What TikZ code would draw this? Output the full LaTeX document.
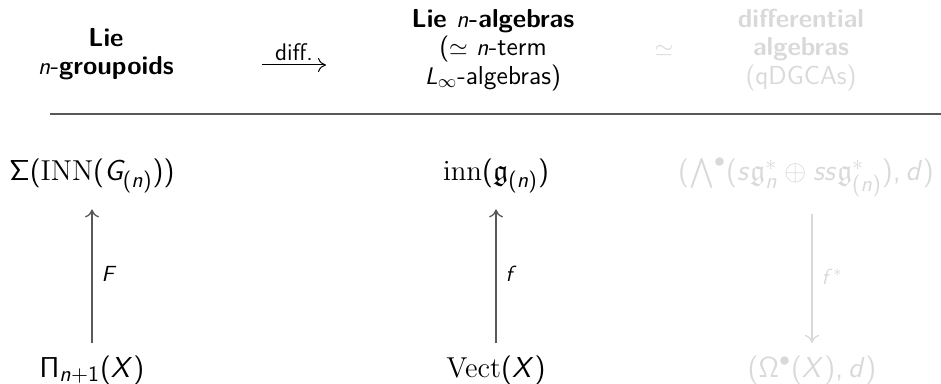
\documentclass[tikz,border=0pt]{standalone}
\usepackage{amsmath,amssymb}
\usetikzlibrary{arrows.meta}
\renewcommand\familydefault{\sfdefault}
\DeclareSymbolFont{sfit}{OT1}{cmss}{m}{sl}
\DeclareSymbolFont{sfup}{OT1}{cmss}{m}{n}
\DeclareMathSymbol{G}{\mathalpha}{sfit}{`G}
\DeclareMathSymbol{n}{\mathalpha}{sfit}{`n}
\DeclareMathSymbol{X}{\mathalpha}{sfit}{`X}
\DeclareMathSymbol{F}{\mathalpha}{sfit}{`F}
\DeclareMathSymbol{f}{\mathalpha}{sfit}{`f}
\DeclareMathSymbol{s}{\mathalpha}{sfit}{`s}
\DeclareMathSymbol{d}{\mathalpha}{sfit}{`d}
\DeclareMathSymbol{L}{\mathalpha}{sfit}{`L}
\DeclareMathSymbol{1}{\mathalpha}{sfup}{`1}
\DeclareMathSymbol{+}{\mathbin}{sfup}{`+}
\DeclareMathSymbol{(}{\mathopen}{sfup}{`(}
\DeclareMathSymbol{)}{\mathclose}{sfup}{`)}
\DeclareMathSymbol{,}{\mathpunct}{sfup}{`,}
\DeclareMathSymbol{\Sigma}{\mathalpha}{sfup}{"06}
\DeclareMathSymbol{\Pi}{\mathalpha}{sfup}{"05}
\DeclareMathSymbol{\Omega}{\mathalpha}{sfup}{"0A}
\definecolor{lightg}{gray}{0.85}
\definecolor{darkg}{gray}{0.35}
\tikzset{
  hdr/.style={align=center, font=\fontsize{13}{14.3}\selectfont, inner sep=0pt},
  obj/.style={font=\fontsize{15}{18}\selectfont, inner sep=0pt, anchor=base},
  tip/.style={-{To[length=4pt,width=7pt]}},
  mor/.style={tip, darkg, line width=0.65pt},
  lbl/.style={font=\fontsize{11}{13}\selectfont, inner sep=0pt, anchor=west, text=black},
  faint/.style={text=lightg},
}
\begin{document}
\begin{tikzpicture}[x=0.5pt,y=-0.5pt]
\useasboundingbox (0,0) rectangle (941,384);
% headers
\node[hdr] (h1) at (106,54) {\textbf{Lie}\\$n$-\textbf{groupoids}};
\node[hdr] (h2) at (493,50) {\textbf{Lie $n$-algebras}\\($\simeq$ $n$-term\\$L_\infty$-algebras)};
\node[hdr, faint] (h3) at (801,50) {\textbf{differential}\\\textbf{algebras}\\(qDGCAs)};
\node[hdr, faint] (sim) at (664,51) {$\simeq$};
\coordinate (dA) at (262,65);
\coordinate (dB) at (326,65);
\draw[tip, line width=0.5pt] (dA) -- node[above=2pt, font=\fontsize{12}{13}\selectfont, inner sep=0pt] {diff.} (dB);
% rule
\coordinate (rA) at (50,114);
\coordinate (rB) at (941,114);
\draw[darkg, line width=0.75pt] (rA) -- (rB);
% objects
\node[obj] (a1) at (92,181) {$\Sigma(\mathrm{INN}(G_{(n)}))$};
\node[obj] (a2) at (92,377) {$\Pi_{n+1}(X)$};
\node[obj] (b1) at (496,181) {$\mathrm{inn}(\mathfrak{g}_{(n)})$};
\node[obj] (b2) at (496,377) {$\mathrm{Vect}(X)$};
\node[obj, faint] (c1) at (806,181) {$(\bigwedge^\bullet(s\mathfrak{g}_n^*\oplus ss\mathfrak{g}_{(n)}^*),d)$};
\node[obj, faint] (c2) at (812,377) {$(\Omega^\bullet(X),d)$};
% morphisms
\draw[mor, shorten <=6pt, shorten >=8pt] (a2.north) -- node[lbl, right=4.5pt] {$F$} (a2.north |- a1.south);
\draw[mor, shorten <=6pt, shorten >=8pt] (b2.north) -- node[lbl, right=4.5pt] {$f$} (b2.north |- b1.south);
\draw[mor, lightg, shorten <=8pt, shorten >=6pt] (c2.north |- c1.south) -- node[lbl, right=4.5pt, faint] {$f^*$} (c2.north);
\end{tikzpicture}
\end{document}
